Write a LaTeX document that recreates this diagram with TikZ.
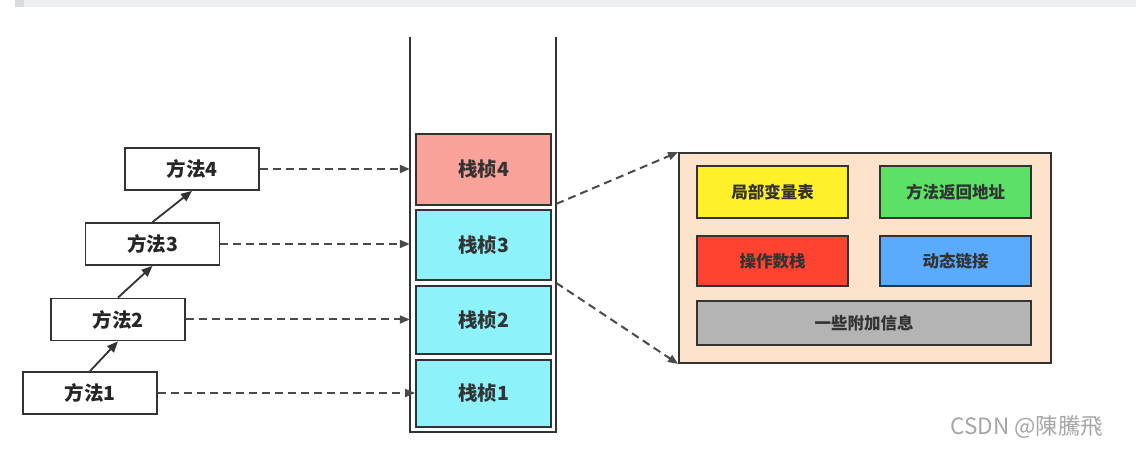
\documentclass[tikz,border=0pt]{standalone}
\usepackage{fontspec}
\newfontfamily\cjk{Noto Sans CJK SC}
\usetikzlibrary{arrows.meta,calc}
\definecolor{edge}{HTML}{333333}
\definecolor{dashc}{HTML}{4A4A4A}
\definecolor{salmon}{HTML}{F9A29A}
\definecolor{cyanf}{HTML}{8EF2FA}
\definecolor{peach}{HTML}{FDE3CC}
\definecolor{yel}{HTML}{FFF02A}
\definecolor{grn}{HTML}{5BE266}
\definecolor{redb}{HTML}{FF4330}
\definecolor{blu}{HTML}{5AABFE}
\definecolor{gry}{HTML}{B4B4B4}
\definecolor{barc}{HTML}{EDEEF2}
\definecolor{bard}{HTML}{D9DADE}
\tikzset{
  method/.style={draw=edge, line width=1.8pt, fill=white, minimum width=134pt, minimum height=42pt, inner sep=0pt, font=\cjk\fontsize{19.5}{21}\selectfont\bfseries, text=black!85},
  frame/.style={draw=edge, line width=1.8pt, minimum width=135pt, inner sep=0pt, font=\cjk\fontsize{19.5}{21}\selectfont\bfseries, text=black!80},
  item/.style={draw=edge, line width=1.8pt, minimum width=151pt, inner sep=0pt, font=\cjk\fontsize{16.5}{18}\selectfont\bfseries, text=black!80},
  dasharrow/.style={draw=dashc, line width=2pt, dash pattern=on 8pt off 5pt, -{Triangle[length=10pt,width=8pt]}},
  solidarrow/.style={draw=edge, line width=1.8pt, -{Triangle[length=11pt,width=9pt]}},
}
\begin{document}
\begin{tikzpicture}[x=1pt,y=-1pt]
\useasboundingbox (0,0) rectangle (1136,457);
% top bar
\fill[barc] (15,0) rectangle (1136,7);
\fill[bard] (15,0) rectangle (24,7);
% stack
\node[minimum width=146pt, minimum height=395pt, inner sep=0pt] (stack) at (483,234.5) {};
\draw[edge, line width=1.8pt] (stack.north west) -- (stack.south west) -- (stack.south east) -- (stack.north east);
\node[frame, fill=salmon, minimum height=71pt] (f4) at (483.5,169.5) {栈桢4};
\node[frame, fill=cyanf, minimum height=70pt] (f3) at (483.5,245) {栈桢3};
\node[frame, fill=cyanf, minimum height=68pt] (f2) at (483.5,320) {栈桢2};
\node[frame, fill=cyanf, minimum height=67pt] (f1) at (483.5,393.5) {栈桢1};
% methods
\node[method] (m4) at (192,169) {方法4};
\node[method] (m3) at (152.5,244) {方法3};
\node[method] (m2) at (118,319.5) {方法2};
\node[method] (m1) at (90,393) {方法1};
\draw[solidarrow] (m1.north) -- (m2.south);
\draw[solidarrow] (m2.north) -- (m3.south);
\draw[solidarrow] (m3.north) -- (m4.south);
\draw[dasharrow] (m4.east) -- (m4.east -| stack.west);
\draw[dasharrow] (m3.east) -- (m3.east -| stack.west);
\draw[dasharrow] (m2.east) -- (m2.east -| stack.west);
\draw[dasharrow] (m1.east) -- (m1.east -| f1.west);
% panel
\node[draw=edge, line width=1.8pt, fill=peach, minimum width=372pt, minimum height=210pt, inner sep=0pt] (panel) at (865,258) {};
\node[item, fill=yel, minimum height=52pt] (lv) at (772.5,192) {局部变量表};
\node[item, fill=grn, minimum height=52pt] (ra) at (955.5,192) {方法返回地址};
\node[item, fill=redb, minimum height=50pt] (os) at (772.5,261) {操作数栈};
\node[item, fill=blu, minimum height=50pt] (dl) at (955.5,261) {动态链接};
\node[item, fill=gry, minimum width=334pt, minimum height=44pt] (ai) at (864,323) {一些附加信息};
\draw[dasharrow] ($(f4.south -| stack.east)+(0,-2)$) -- (panel.north west);
\draw[dasharrow] ($(f3.south -| stack.east)+(0,2)$) -- (panel.south west);
% watermark
\node[text=black!35, font=\cjk\fontsize{22.5}{24}\selectfont, inner sep=0pt] (wm) at (1027,427) {CSDN @陳騰飛};
\end{tikzpicture}
\end{document}
